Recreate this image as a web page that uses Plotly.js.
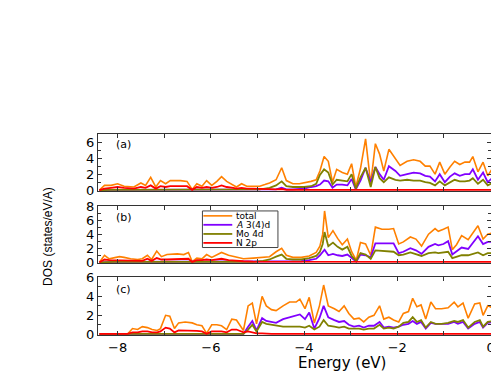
<!DOCTYPE html>
<html>
<head>
<meta charset="utf-8">
<script src="https://cdn.plot.ly/plotly-3.0.1.min.js"></script>
<style>
  html, body { margin: 0; padding: 0; background: #fff; }
  #dosChart { width: 491px; height: 382px; }
</style>
</head>
<body>
<div id="dosChart"></div>
<script>
// DOS panels (a), (b), (c)

// ---- panel (a) ----
const energyA = [-8.39,-8.28,-8.14,-8.0,-7.86,-7.65,-7.5,-7.4,-7.29,-7.18,
  -7.08,-6.97,-6.87,-6.65,-6.51,-6.4,-6.3,-6.19,-6.09,-5.98,
  -5.87,-5.77,-5.66,-5.52,-5.45,-5.34,-5.23,-5.09,-4.95,-4.84,
  -4.74,-4.6,-4.48,-4.38,-4.24,-4.1,-4.0,-3.85,-3.74,-3.66,
  -3.57,-3.48,-3.39,-3.3,-3.18,-3.07,-2.98,-2.89,-2.79,-2.68,
  -2.57,-2.47,-2.38,-2.29,-2.18,-2.04,-1.94,-1.79,-1.65,-1.51,
  -1.4,-1.3,-1.19,-1.09,-0.98,-0.87,-0.77,-0.66,-0.55,-0.45,
  -0.38,-0.27,-0.16,-0.06,0.05];
const totalA = [0,0.6,0.6,0.8,0.5,0.4,0.9,0.6,1.6,0.4,
  1.2,0.8,1.2,1.2,1.1,0.1,0.8,0.5,1.2,0.6,
  1.1,1.7,1.1,0.7,0.4,0.8,0.5,0.5,0.5,0.7,
  0.9,1.3,2.8,1.2,0.8,0.8,0.9,1.1,1.3,2.4,
  4.2,3.6,1.0,2.6,2.2,2.0,3.3,0.4,2.7,6.4,
  0.8,5.8,4.5,2.4,5.1,3.9,3.1,3.6,3.8,3.6,
  3.0,3.0,2.0,3.5,2.0,2.9,3.6,3.2,3.5,3.5,
  4.2,2.3,3.5,1.8,2.8];
const d34A = [0,0.05,0.05,0.05,0.05,0.05,0.05,0.05,0.05,0.05,
  0.05,0.05,0.05,0.05,0.05,0.05,0.05,0.05,0.05,0.05,
  0.05,0.05,0.05,0.05,0.05,0.05,0.05,0.05,0.05,0.05,
  0.05,0.1,0.3,0.1,0.1,0.15,0.2,0.4,0.5,0.7,
  1.2,1.1,0.3,0.7,0.7,0.6,1.4,0.1,1.2,2.8,
  1.0,2.9,2.0,1.3,3.0,2.4,1.8,2.0,2.2,2.1,
  1.8,1.7,1.1,2.0,1.0,1.7,2.1,1.8,2.0,2.0,
  2.6,1.3,2.2,1.0,1.6];
const mo4dA = [0,0.05,0.05,0.05,0.05,0.05,0.05,0.05,0.05,0.05,
  0.05,0.05,0.05,0.05,0.05,0.05,0.05,0.05,0.05,0.05,
  0.05,0.05,0.05,0.05,0.05,0.05,0.05,0.05,0.1,0.2,
  0.3,0.6,1.1,0.5,0.4,0.4,0.4,0.5,0.8,1.9,
  2.6,2.2,0.7,1.3,1.2,1.1,2.0,0.2,1.6,2.8,
  0.4,2.9,1.5,1.0,1.6,1.3,1.2,1.3,1.2,1.2,
  1.0,0.9,0.6,1.1,0.6,1.0,1.3,1.1,1.1,1.2,
  1.5,0.8,1.3,0.6,0.9];
const n2pA = [0,0.2,0.3,0.4,0.3,0.2,0.4,0.3,0.6,0.2,
  0.5,0.4,0.5,0.5,0.5,0.05,0.4,0.3,0.4,0.3,
  0.4,0.6,0.4,0.3,0.2,0.3,0.2,0.2,0.15,0.15,
  0.1,0.1,0.15,0.05,0.05,0.05,0.05,0.05,0.05,0.05,
  0.05,0.05,0.05,0.05,0.05,0.05,0.05,0.05,0.05,0.05,
  0.05,0.05,0.05,0.05,0.05,0.05,0.05,0.05,0.05,0.05,
  0.05,0.05,0.05,0.05,0.05,0.05,0.05,0.05,0.05,0.05,
  0.05,0.05,0.05,0.05,0.05];

// ---- panel (b) ----
const energyB = [-8.39,-8.28,-8.18,-8.07,-7.96,-7.86,-7.72,-7.57,-7.47,-7.36,
  -7.27,-7.16,-7.06,-6.94,-6.72,-6.58,-6.48,-6.4,-6.3,-6.19,
  -6.09,-5.98,-5.87,-5.77,-5.62,-5.48,-5.3,-5.09,-4.88,-4.74,
  -4.6,-4.48,-4.38,-4.24,-4.06,-3.89,-3.74,-3.66,-3.6,-3.56,
  -3.48,-3.38,-3.28,-3.18,-3.07,-2.98,-2.88,-2.79,-2.68,-2.57,
  -2.47,-2.33,-2.18,-2.08,-1.97,-1.87,-1.72,-1.6,-1.48,-1.33,
  -1.19,-1.12,-1.01,-0.91,-0.82,-0.73,-0.62,-0.48,-0.27,-0.16,
  -0.06,0.05];
const totalB = [0,1.0,0.5,0.6,0.8,0.7,0.5,0.4,0.5,1.0,
  0.4,1.6,0.8,1.1,1.2,1.1,1.4,0.1,0.6,0.5,
  1.1,0.7,1.1,1.4,1.0,0.8,0.5,0.6,0.7,0.8,
  1.5,2.0,1.0,0.7,0.7,0.9,1.4,2.3,4.0,7.3,
  3.5,4.5,3.4,2.5,3.3,1.5,0.3,2.8,2.6,1.0,
  5.0,4.7,4.7,4.8,2.6,2.9,3.6,3.3,2.3,4.0,
  4.8,4.4,4.7,5.0,1.8,2.5,3.8,3.2,5.2,3.3,
  4.0,4.2];
const d34B = [0,0.05,0.05,0.05,0.05,0.05,0.05,0.05,0.05,0.05,
  0.05,0.05,0.05,0.05,0.05,0.05,0.05,0.05,0.05,0.05,
  0.05,0.05,0.05,0.05,0.05,0.05,0.05,0.05,0.05,0.05,
  0.05,0.15,0.05,0.1,0.15,0.3,0.5,1.0,1.4,1.8,
  1.0,1.2,1.0,0.9,1.1,0.6,0.1,1.1,1.0,0.7,
  2.7,2.7,2.7,2.7,1.3,1.5,2.0,1.7,1.2,2.2,
  2.6,2.4,2.6,3.0,1.1,1.5,2.1,1.9,3.7,2.6,
  2.9,2.9];
const mo4dB = [0,0.05,0.05,0.05,0.05,0.05,0.05,0.05,0.05,0.05,
  0.05,0.05,0.05,0.05,0.05,0.05,0.05,0.05,0.05,0.05,
  0.05,0.05,0.05,0.05,0.05,0.05,0.05,0.05,0.2,0.4,
  0.8,1.1,0.5,0.4,0.4,0.6,0.9,1.5,2.6,4.3,
  2.3,2.8,2.2,1.8,2.2,0.9,0.2,1.3,1.1,0.5,
  1.7,1.6,1.6,1.5,1.0,1.1,1.4,1.2,0.9,1.3,
  1.4,1.3,1.4,1.5,0.6,0.8,1.0,1.0,1.4,1.0,
  1.3,1.3];
const n2pB = [0,0.4,0.3,0.3,0.3,0.2,0.2,0.2,0.2,0.5,
  0.2,0.6,0.4,0.4,0.4,0.4,0.5,0.05,0.3,0.3,
  0.4,0.3,0.4,0.5,0.3,0.2,0.15,0.1,0.1,0.1,
  0.05,0.05,0.05,0.05,0.05,0.05,0.05,0.05,0.05,0.05,
  0.05,0.05,0.05,0.05,0.05,0.05,0.05,0.05,0.05,0.05,
  0.05,0.05,0.05,0.05,0.05,0.05,0.05,0.05,0.05,0.05,
  0.05,0.05,0.05,0.05,0.05,0.05,0.05,0.05,0.05,0.05,
  0.05,0.05];

// ---- panel (c) ----
const energyC = [-8.39,-7.79,-7.68,-7.57,-7.47,-7.36,-7.26,-7.15,-7.08,-6.97,
  -6.88,-6.78,-6.69,-6.55,-6.4,-6.3,-6.19,-6.09,-5.98,-5.87,
  -5.77,-5.66,-5.55,-5.45,-5.3,-5.2,-5.11,-5.02,-4.9,-4.81,
  -4.7,-4.6,-4.45,-4.31,-4.17,-4.09,-3.98,-3.89,-3.78,-3.67,
  -3.58,-3.48,-3.35,-3.25,-3.14,-3.04,-2.93,-2.82,-2.72,-2.61,
  -2.5,-2.38,-2.29,-2.18,-2.08,-1.97,-1.87,-1.76,-1.67,-1.58,
  -1.49,-1.39,-1.28,-1.18,-1.05,-0.91,-0.78,-0.7,-0.59,-0.48,
  -0.34,-0.23,-0.16,-0.06,0.05];
const totalC = [0,0,0.6,0.5,0.8,0.7,0.5,0.4,0.6,2.0,
  1.9,0.6,1.2,1.3,1.2,1.0,0.9,0.1,1.0,1.0,
  0.9,0.5,1.6,1.5,0.4,3.0,3.3,1.1,4.0,3.0,
  2.6,2.5,3.0,3.4,3.4,3.7,2.7,3.9,1.2,3.0,
  5.2,3.0,2.7,2.4,3.0,2.2,1.6,1.7,1.3,1.8,
  2.0,3.0,1.6,1.8,1.5,1.3,2.2,2.4,3.8,2.9,
  3.1,1.6,3.4,2.7,2.7,2.8,3.4,2.9,3.3,1.7,
  3.2,3.3,2.0,3.0,2.8];
const d34C = [0.03,0.03,0.03,0.03,0.03,0.03,0.03,0.03,0.03,0.03,
  0.03,0.03,0.03,0.03,0.03,0.03,0.03,0.03,0.03,0.03,
  0.03,0.03,0.03,0.03,0.03,0.8,1.4,0.4,1.7,1.4,
  1.3,1.2,1.6,1.8,2.0,2.1,1.6,2.3,0.6,1.7,
  3.0,1.8,1.5,1.3,1.4,1.0,0.8,0.9,0.7,0.9,
  0.9,1.3,0.7,0.8,0.7,0.8,1.0,1.1,1.4,1.1,
  1.3,0.6,1.2,1.1,1.1,1.1,1.3,1.1,1.3,0.6,
  1.1,1.3,0.7,1.2,1.3];
const mo4dC = [0.03,0.03,0.03,0.03,0.03,0.03,0.03,0.03,0.03,0.03,
  0.03,0.03,0.03,0.03,0.03,0.03,0.03,0.03,0.03,0.03,
  0.03,0.03,0.03,0.03,0.03,0.5,1.0,0.3,1.3,1.1,
  1.0,0.9,0.8,0.8,0.8,0.8,0.7,0.9,0.5,0.8,
  1.5,0.9,0.8,0.7,0.8,0.6,0.6,0.6,0.5,0.6,
  0.6,1.0,0.6,0.7,0.6,0.8,1.2,1.3,1.8,1.3,
  1.5,0.7,1.3,1.1,1.1,1.2,1.4,1.3,1.5,0.7,
  1.3,1.5,0.8,1.3,1.4];
const n2pC = [0.05,0.05,0.2,0.2,0.3,0.3,0.2,0.2,0.3,0.7,
  0.6,0.2,0.4,0.4,0.4,0.35,0.3,0.05,0.3,0.3,
  0.3,0.2,0.5,0.5,0.2,0.3,0.2,0.1,0.1,0.05,
  0.05,0.05,0.05,0.05,0.05,0.05,0.05,0.05,0.05,0.05,
  0.05,0.05,0.05,0.05,0.05,0.05,0.05,0.05,0.05,0.05,
  0.05,0.05,0.05,0.05,0.05,0.05,0.05,0.05,0.05,0.05,
  0.05,0.05,0.05,0.05,0.05,0.05,0.05,0.05,0.05,0.05,
  0.05,0.05,0.05,0.05,0.05];

const seriesNames = ['total', '<i>A</i> 3(4)d', 'Mo 4d', 'N 2p'];
const panelLabels = ['(a)', '(b)', '(c)'];

const seriesColors = ['#ff8000', '#8000ff', '#808000', '#ff0000'];
const seriesWidths = [1.6, 1.8, 1.8, 1.8];

const panels = [
    { energy: energyA, series: [totalA, d34A, mo4dA, n2pA], ax: '' },
    { energy: energyB, series: [totalB, d34B, mo4dB, n2pB], ax: '2' },
    { energy: energyC, series: [totalC, d34C, mo4dC, n2pC], ax: '3' }
];

const traces = [];
panels.forEach(p => {
    p.series.forEach((vals, i) => {
        traces.push({
            x: p.energy,
            y: vals,
            xaxis: 'x' + p.ax,
            yaxis: 'y' + p.ax,
            type: 'scatter',
            mode: 'lines',
            name: seriesNames[i],
            showlegend: false,
            line: { color: seriesColors[i], width: seriesWidths[i] },
            hoverinfo: 'skip'
        });
    });
});

const tickFont = { family: 'DejaVu Sans, Arial, sans-serif', size: 13, color: '#000' };

function xAxis(anchor, showLabels) {
    return {
        domain: [0, 1],
        anchor: anchor,
        range: [-8.42, 0.01],
        dtick: 2,
        tick0: 0,
        ticks: 'inside',
        ticklen: 4,
        tickcolor: '#333',
        minor: { dtick: 1, ticks: 'inside', ticklen: 4, tickcolor: '#333' },
        showline: true,
        linecolor: '#333',
        linewidth: 1,
        mirror: 'ticks',
        showgrid: false,
        zeroline: false,
        showticklabels: showLabels,
        ticklabeloverflow: 'allow',
        tickfont: tickFont,
        automargin: false
    };
}

function yAxis(anchor, domain, range) {
    return {
        domain: domain,
        anchor: anchor,
        range: range,
        dtick: 2,
        tick0: 0,
        ticks: 'inside',
        ticklen: 4,
        tickcolor: '#333',
        minor: { dtick: 1, ticks: 'inside', ticklen: 3, tickcolor: '#333' },
        showline: true,
        linecolor: '#333',
        linewidth: 1,
        mirror: 'ticks',
        showgrid: false,
        zeroline: false,
        tickfont: tickFont,
        automargin: false
    };
}

// legend drawn by hand (Plotly legend rows are too tall for this box)
const legendRowsY = [6.6, 5.33, 4.03, 2.76];
const shapes = [{
    type: 'rect', xref: 'x2', yref: 'y2',
    x0: -6.18, x1: -4.56, y0: 2.1, y1: 7.3,
    line: { color: '#444', width: 1 }, fillcolor: '#fff', layer: 'above'
}];
const annotations = [];
seriesNames.forEach((name, i) => {
    shapes.push({
        type: 'line', xref: 'x2', yref: 'y2',
        x0: -6.16, x1: -5.54, y0: legendRowsY[i], y1: legendRowsY[i],
        line: { color: seriesColors[i], width: seriesWidths[i] }, layer: 'above'
    });
    annotations.push({
        xref: 'x2', yref: 'y2', x: -5.48, y: legendRowsY[i],
        text: name, showarrow: false, xanchor: 'left', yanchor: 'middle',
        borderpad: 0,
        font: { family: 'DejaVu Sans, Arial, sans-serif', size: 9, color: '#000' }
    });
});

panels.forEach((p, i) => {
    annotations.push({
        xref: 'x' + p.ax + ' domain', yref: 'y' + p.ax + ' domain',
        x: 0.066, y: [0.81, 0.79, 0.78][i],
        text: panelLabels[i], showarrow: false, xanchor: 'center', yanchor: 'middle',
        font: { family: 'DejaVu Sans, Arial, sans-serif', size: 11, color: '#000' }
    });
});

// axis titles
annotations.push({
    xref: 'paper', yref: 'paper', x: 0.621, y: 0.05,
    text: 'Energy (eV)', showarrow: false, xanchor: 'center', yanchor: 'middle',
    font: { family: 'DejaVu Sans, Arial, sans-serif', size: 15, color: '#000' }
});
annotations.push({
    xref: 'paper', yref: 'paper', x: -0.127, y: 0.38,
    text: 'DOS (states/eV/A)', showarrow: false, textangle: -90,
    xanchor: 'center', yanchor: 'middle',
    font: { family: 'Liberation Sans, Arial, sans-serif', size: 12, color: '#000' }
});

const layout = {
    width: 491,
    height: 382,
    margin: { l: 98, r: 0, t: 0, b: 0 },
    paper_bgcolor: '#fff',
    plot_bgcolor: '#fff',
    showlegend: false,
    xaxis: xAxis('y', false),
    xaxis2: xAxis('y2', false),
    xaxis3: xAxis('y3', true),
    yaxis: yAxis('x', [0.5, 0.649], [-0.1, 7]),
    yaxis2: yAxis('x2', [0.3115, 0.4607], [-0.1, 8]),
    yaxis3: yAxis('x3', [0.123, 0.2749], [-0.08, 6.05]),
    shapes: shapes,
    annotations: annotations
};

Plotly.newPlot('dosChart', traces, layout, { displayModeBar: false, staticPlot: true });
</script>
</body>
</html>
